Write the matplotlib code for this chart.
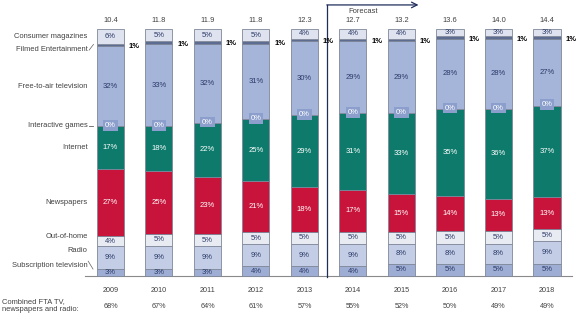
import numpy as np
import matplotlib.pyplot as plt

plt.rcParams['font.family'] = ['Liberation Sans', 'DejaVu Sans']

years = ['2009', '2010', '2011', '2012', '2013', '2014', '2015', '2016', '2017', '2018']
totals = [10.4, 11.8, 11.9, 11.8, 12.3, 12.7, 13.2, 13.6, 14.0, 14.4]
combined = [68, 67, 64, 61, 57, 55, 52, 50, 49, 49]

# shares in %, stacked from the bottom up
subscription = [3, 3, 3, 4, 4, 4, 5, 5, 5, 5]
radio        = [9, 9, 9, 9, 9, 9, 8, 8, 8, 9]
out_of_home  = [4, 5, 5, 5, 5, 5, 5, 5, 5, 5]
newspapers   = [27, 25, 23, 21, 18, 17, 15, 14, 13, 13]
internet     = [17, 18, 22, 25, 29, 31, 33, 35, 36, 37]
games        = [0, 0, 0, 0, 0, 0, 0, 0, 0, 0]
fta_tv       = [32, 33, 32, 31, 30, 29, 29, 28, 28, 27]
filmed       = [1, 1, 1, 1, 1, 1, 1, 1, 1, 1]
magazines    = [6, 5, 5, 5, 4, 4, 4, 3, 3, 3]

segments = [
    ('Subscription television', subscription, '#9dadd3', '#2b3a67'),
    ('Radio', radio, '#c4cde6', '#2b3a67'),
    ('Out-of-home', out_of_home, '#e9ebf3', '#2b3a67'),
    ('Newspapers', newspapers, '#c8143a', 'white'),
    ('Internet', internet, '#0d7a6b', 'white'),
    ('Interactive games', games, '#8c9fcc', 'white'),
    ('Free-to-air television', fta_tv, '#a5b5d9', '#2b3a67'),
    ('Filmed Entertainment', filmed, '#5d6d92', 'black'),
    ('Consumer magazines', magazines, '#dfe3ef', '#2b3a67'),
]

fig = plt.figure(figsize=(5.76, 3.21), dpi=100)
ax = fig.add_axes([0, 0, 1, 1])
ax.set_xlim(-2.278, 9.598)
ax.set_ylim(-18.2, 111.7)
ax.axis('off')

x = np.arange(len(years))
width = 0.557
vals = np.array([s[1] for s in segments], dtype=float)
scaled = vals / vals.sum(axis=0) * 100
bottoms = np.vstack([np.zeros(len(years)), np.cumsum(scaled, axis=0)[:-1]])

edge = '#7f8799'
for k, (name, v, col, tcol) in enumerate(segments):
    h = scaled[k]
    b = bottoms[k]
    ax.bar(x, h, bottom=b, width=width, color=col, edgecolor=edge,
           linewidth=0.6, zorder=2)
    for i in range(len(years)):
        if name == 'Filmed Entertainment':
            ax.text(x[i] + width / 2 + 0.1, b[i] + h[i] / 2 - 0.6, f'{v[i]}%',
                    fontsize=5.5, fontweight='bold', color='black',
                    ha='left', va='center')
        elif name == 'Interactive games':
            ax.text(x[i], b[i] + 0.3, f'{v[i]}%', fontsize=5.5, color='white',
                    ha='center', va='center', zorder=4,
                    bbox=dict(boxstyle='square,pad=0.25', fc=col, ec='none'))
        else:
            ax.text(x[i], b[i] + h[i] / 2, f'{v[i]}%', fontsize=5.5,
                    color=tcol, ha='center', va='center', zorder=3)

# category names on the left, lined up with the first bar
label_dy = {'Filmed Entertainment': -1.6, 'Out-of-home': 2.0,
            'Radio': 2.6, 'Subscription television': 2.9,
            'Interactive games': 0.3}
lx = -0.47
for k, (name, v, col, tcol) in enumerate(segments):
    if name == 'Interactive games':
        yc = bottoms[k][0]
    else:
        yc = bottoms[k][0] + scaled[k][0] / 2
    yc += label_dy.get(name, 0)
    ax.text(lx, yc, name, fontsize=5.4, color='#404040', ha='right', va='center')

# small leader marks
yf = bottoms[7][0] + scaled[7][0] / 2
ax.plot([lx + 0.03, lx + 0.12], [yf - 2.0, yf + 0.3], color='#606060', lw=0.5)
yg = bottoms[5][0] + 0.3
ax.plot([lx + 0.03, lx + 0.11], [yg, yg], color='#606060', lw=0.6)
ys = bottoms[0][0] + scaled[0][0] / 2
ax.plot([lx + 0.01, lx + 0.11], [ys + 4.5, ys + 1.3], color='#606060', lw=0.5)

# market totals above the bars
for i, t in enumerate(totals):
    ax.text(x[i], 103.3, f'{t:.1f}', fontsize=5.4, color='#404040',
            ha='center', va='center')

# baseline
ax.plot([-0.526, 9.52], [0, 0], color='#8a8a8a', lw=0.8, zorder=1)

# years and combined share row
for i in range(len(years)):
    ax.text(x[i], -5.7, years[i], fontsize=5.2, color='#404040',
            ha='center', va='center')
    ax.text(x[i], -12.2, f'{combined[i]}%', fontsize=5.2, color='#404040',
            ha='center', va='center')
ax.text(-2.24, -12.0, 'Combined FTA TV,\nnewspapers and radio:', fontsize=5.4,
        color='#404040', ha='left', va='center', linespacing=1.2)

# forecast marker
fx = 4.47
ax.plot([fx, fx], [-0.3, 109.7], color='#1f2d5a', lw=0.9, zorder=1)
ax.annotate('', xy=(6.35, 109.7), xytext=(fx - 0.01, 109.7),
            arrowprops=dict(arrowstyle='->', color='#1f2d5a', lw=0.9,
                            shrinkA=0, shrinkB=0))
ax.text(5.2, 107.0, 'Forecast', fontsize=5.4, color='#404040',
        ha='center', va='center')

fig.savefig('out.png', dpi=100)
